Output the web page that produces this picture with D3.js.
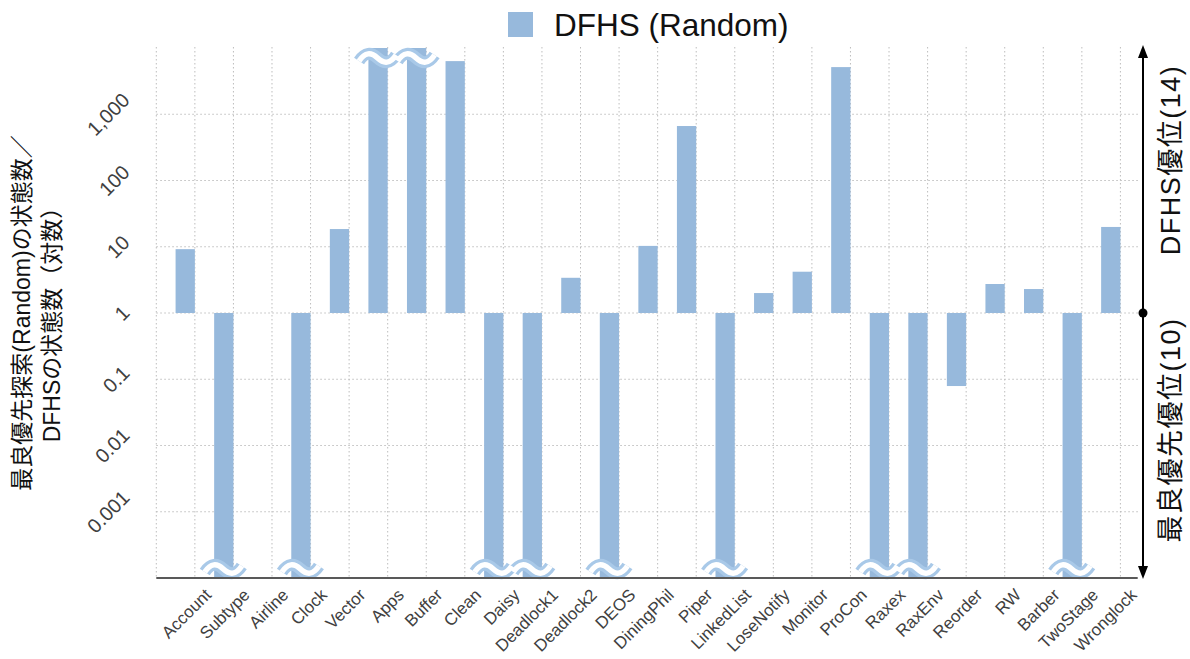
<!DOCTYPE html>
<html>
<head>
<meta charset="utf-8">
<script src="https://cdn.jsdelivr.net/npm/d3@7"></script>
<style>
  html, body { margin: 0; padding: 0; background: #fff; }
  svg { display: block; font-family: "Liberation Sans", "Noto Sans CJK JP", sans-serif; }
</style>
</head>
<body>
<svg id="chart" width="1190" height="659"></svg>
<script>
// categories (benchmark models)
const categories = ['Account', 'Subtype', 'Airline', 'Clock', 'Vector', 'Apps', 'Buffer', 'Clean',
  'Daisy', 'Deadlock1', 'Deadlock2', 'DEOS', 'DiningPhil', 'Piper', 'LinkedList', 'LoseNotify',
  'Monitor', 'ProCon', 'Raxex', 'RaxEnv', 'Reorder', 'RW', 'Barber', 'TwoStage', 'Wronglock'];

// off-scale markers: bars drawn with a break symbol at the axis limit
const OVER = 1e6;
const UNDER = 1e-6;

// states(best-first, Random) / states(DFHS)
const ratios = [9.2, UNDER, 1, UNDER, 18.5, OVER, OVER, 6340,
  UNDER, UNDER, 3.4, UNDER, 10.3, 664, UNDER, 2.0,
  4.2, 5150, UNDER, UNDER, 0.079, 2.74, 2.3, UNDER, 19.9];

const yTicks = [0.001, 0.01, 0.1, 1, 10, 100, 1000];
const yTickLabels = ['0.001', '0.01', '0.1', '1', '10', '100', '1,000'];

const seriesName = 'DFHS (Random)';
const yTitle = ['最良優先探索(Random)の状態数／', 'DFHSの状態数（対数）'];
const sideLabels = ['DFHS優位(14)', '最良優先優位(10)'];

const barColor = '#97b9dc';
const gridColor = '#bdbdbd';

const svg = d3.select('#chart');

const x = d3.scaleBand()
  .domain(categories)
  .range([156.3, 1139.7])
  .padding(0.5);

const y = d3.scaleLog()
  .domain([1e-4, 1e4])
  .range([578, 48])
  .clamp(true);

const plotTop = y(1e4);
const plotBottom = y(1e-4);

// vertical dotted grid at band boundaries
const step = x.step();
const bounds = d3.range(categories.length + 1).map(i => x.range()[0] + i * step);
svg.append('g')
  .selectAll('line')
  .data(bounds)
  .join('line')
  .attr('x1', d => d).attr('x2', d => d)
  .attr('y1', plotTop - 1).attr('y2', plotBottom)
  .attr('stroke', gridColor)
  .attr('stroke-width', 1)
  .attr('stroke-dasharray', '1.5,2.5');

// horizontal dotted grid
svg.append('g')
  .selectAll('line')
  .data(yTicks)
  .join('line')
  .attr('x1', x.range()[0]).attr('x2', x.range()[1])
  .attr('y1', d => y(d)).attr('y2', d => y(d))
  .attr('stroke', gridColor)
  .attr('stroke-width', 1)
  .attr('stroke-dasharray', '1.5,2.5');

// bars from 1 up or down
const base = y(1);
svg.append('g')
  .selectAll('rect')
  .data(categories.map((c, i) => ({cat: c, v: ratios[i]})))
  .join('rect')
  .attr('x', d => x(d.cat))
  .attr('width', x.bandwidth())
  .attr('y', d => Math.min(y(d.v), base))
  .attr('height', d => Math.abs(y(d.v) - base))
  .attr('fill', barColor);

// break symbols for off-scale bars
function wave(cx, cy) {
  const l = cx - 19, r = cx + 18;
  return 'M' + l + ',' + (cy + 3) +
    ' C' + (l + 6) + ',' + (cy - 6) + ' ' + (l + 12) + ',' + (cy - 6) + ' ' + (cx - 0.5) + ',' + cy +
    ' C' + (cx + 6) + ',' + (cy + 6) + ' ' + (cx + 12) + ',' + (cy + 6) + ' ' + r + ',' + (cy - 3);
}
const broken = categories.map((c, i) => ({cat: c, v: ratios[i]}))
  .filter(d => d.v > 1e4 || d.v < 1e-4);
const breakY = d => d.v > 1 ? plotTop + 10 : plotBottom - 9;
const breaks = svg.append('g');
breaks.selectAll('path.outer')
  .data(broken)
  .join('path')
  .attr('class', 'outer')
  .attr('d', d => wave(x(d.cat) + x.bandwidth() / 2, breakY(d)))
  .attr('fill', 'none')
  .attr('stroke', '#a9c9e8')
  .attr('stroke-width', 12);
breaks.selectAll('path.inner')
  .data(broken)
  .join('path')
  .attr('class', 'inner')
  .attr('d', d => wave(x(d.cat) + x.bandwidth() / 2, breakY(d)))
  .attr('fill', 'none')
  .attr('stroke', '#fff')
  .attr('stroke-width', 5.5);

// bottom axis line
svg.append('line')
  .attr('x1', x.range()[0]).attr('x2', x.range()[1] - 2)
  .attr('y1', plotBottom).attr('y2', plotBottom)
  .attr('stroke', '#595959')
  .attr('stroke-width', 2);

// y tick labels, rotated
svg.append('g')
  .selectAll('text')
  .data(yTicks)
  .join('text')
  .text((d, i) => yTickLabels[i])
  .attr('font-size', 20)
  .attr('fill', '#404040')
  .attr('text-anchor', 'middle')
  .attr('dominant-baseline', 'central')
  .attr('transform', function (d) {
    const w = this.getComputedTextLength();
    const cx = 131 - (w + 14) * 0.354;
    return 'translate(' + cx + ',' + y(d) + ') rotate(-45)';
  });

// x labels, rotated
svg.append('g')
  .selectAll('text')
  .data(categories)
  .join('text')
  .text(d => d)
  .attr('font-size', 17)
  .attr('fill', '#404040')
  .attr('text-anchor', 'end')
  .attr('transform', d => 'translate(' + (x(d) + x.bandwidth() / 2 + 27) + ',596) rotate(-45)');

// y title
svg.append('g')
  .selectAll('text')
  .data(yTitle)
  .join('text')
  .text(d => d)
  .attr('font-size', 23)
  .attr('fill', '#111')
  .attr('text-anchor', 'middle')
  .attr('dominant-baseline', 'central')
  .attr('transform', (d, i) => 'translate(' + (22 + i * 30) + ',' + ((plotTop + plotBottom) / 2 + i * 6) + ') rotate(-90)');

// legend
svg.append('rect')
  .attr('x', 508).attr('y', 12)
  .attr('width', 25).attr('height', 25)
  .attr('fill', barColor);
svg.append('text')
  .attr('x', 554).attr('y', 36)
  .attr('font-size', 31.5)
  .attr('fill', '#111')
  .text(seriesName);

// right-hand double arrow with centre dot
const ax = 1143;
svg.append('line')
  .attr('x1', ax).attr('x2', ax)
  .attr('y1', plotTop + 6).attr('y2', plotBottom - 6)
  .attr('stroke', '#000')
  .attr('stroke-width', 2);
svg.append('path')
  .attr('d', 'M' + ax + ',' + (plotTop - 3) + ' l-5,13 l10,0 Z')
  .attr('fill', '#000');
svg.append('path')
  .attr('d', 'M' + ax + ',' + (plotBottom + 1) + ' l-5,-13 l10,0 Z')
  .attr('fill', '#000');
svg.append('circle')
  .attr('cx', ax).attr('cy', base)
  .attr('r', 4.5)
  .attr('fill', '#000');

svg.append('g')
  .selectAll('text')
  .data(sideLabels)
  .join('text')
  .text(d => d)
  .attr('font-size', 27)
  .attr('letter-spacing', 1.5)
  .attr('fill', '#111')
  .attr('text-anchor', 'middle')
  .attr('dominant-baseline', 'central')
  .attr('transform', (d, i) => 'translate(1171,' + (i === 0 ? 160 : 430) + ') rotate(-90)');
</script>
</body>
</html>
